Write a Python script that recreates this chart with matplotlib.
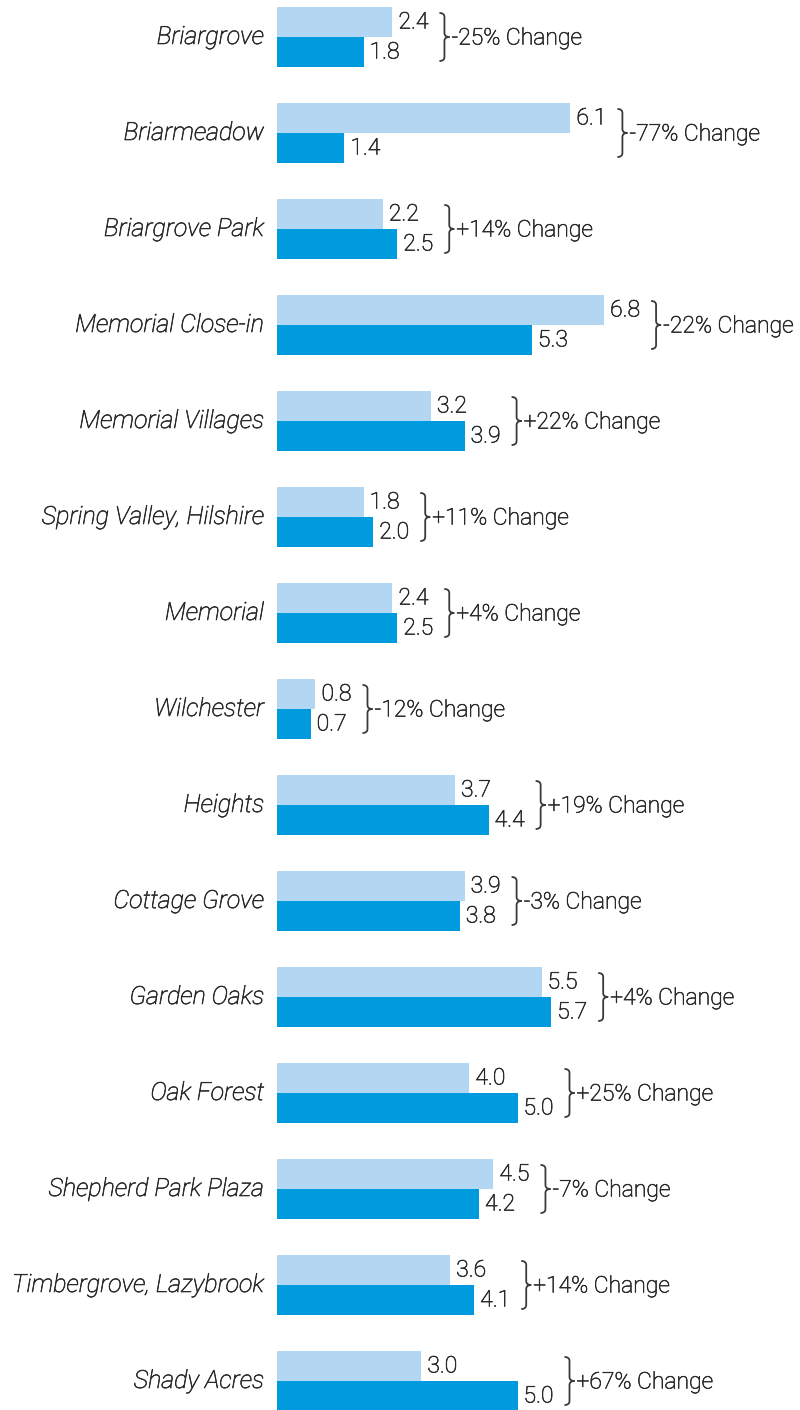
import matplotlib
matplotlib.use("Agg")
import matplotlib.pyplot as plt
import matplotlib.patheffects as pe
import numpy as np
from matplotlib.path import Path
from matplotlib.patches import PathPatch

# ---------------------------------------------------------------------------
# Data
# ---------------------------------------------------------------------------

neighborhoods = [
    "Briargrove", "Briarmeadow", "Briargrove Park", "Memorial Close-in",
    "Memorial Villages", "Spring Valley, Hilshire", "Memorial", "Wilchester",
    "Heights", "Cottage Grove", "Garden Oaks", "Oak Forest",
    "Shepherd Park Plaza", "Timbergrove, Lazybrook", "Shady Acres",
]
before = [2.4, 6.1, 2.2, 6.8, 3.2, 1.8, 2.4, 0.8, 3.7, 3.9, 5.5, 4.0, 4.5, 3.6, 3.0]
after = [1.8, 1.4, 2.5, 5.3, 3.9, 2.0, 2.5, 0.7, 4.4, 3.8, 5.7, 5.0, 4.2, 4.1, 5.0]
changes = ["-25%", "-77%", "+14%", "-22%", "+22%", "+11%", "+4%", "-12%",
           "+19%", "-3%", "+4%", "+25%", "-7%", "+14%", "+67%"]

# ---------------------------------------------------------------------------
# Layout (figure is laid out in pixels: 800 x 1410)
# ---------------------------------------------------------------------------

W, H = 800, 1410
X0 = 277           # pixel where bars start
PX_PER_UNIT = 48.1 # x pixels per data unit
PITCH = 96         # y pixels per category
FIRST = 37         # y pixel of first category centre
PX_X = 1 / PX_PER_UNIT
PX_Y = 1 / PITCH

LIGHT = "#b3d6f2"
DARK = "#009bde"
TEXT = "#2a2a2a"
FONT = "Roboto"

fig = plt.figure(figsize=(W / 100, H / 100), dpi=100)
ax = fig.add_axes([X0 / W, 0, (W - X0) / W, 1])
ax.set_xlim(0, (W - X0) / PX_PER_UNIT)
top = -FIRST / PITCH
ax.set_ylim(top + H / PITCH, top)
ax.axis("off")

y = np.arange(len(neighborhoods))
bh = 30 / PITCH
ax.barh(y - bh / 2, before, height=bh, color=LIGHT, linewidth=0)
ax.barh(y + bh / 2, after, height=bh, color=DARK, linewidth=0)

# light weight, thickened a touch to get closer to Helvetica Light
thicken = [pe.withStroke(linewidth=0.45, foreground=TEXT)]
txt_kw = dict(color=TEXT, family=FONT, fontweight="light", fontsize=16.5,
              path_effects=thicken)


def brace(ax, x, yc, half_h, w):
    """Right-pointing curly brace at x (data), centred on yc."""
    dx = w * PX_X
    dy = 4 * PX_Y
    hh = half_h * PX_Y
    xm = x + dx / 2
    verts = [
        (x, yc - hh),
        (xm, yc - hh), (xm, yc - hh + dy),
        (xm, yc - dy),
        (xm, yc), (x + dx, yc),
        (xm, yc), (xm, yc + dy),
        (xm, yc + hh - dy),
        (xm, yc + hh), (x, yc + hh),
    ]
    codes = [Path.MOVETO,
             Path.CURVE3, Path.CURVE3,
             Path.LINETO,
             Path.CURVE3, Path.CURVE3,
             Path.CURVE3, Path.CURVE3,
             Path.LINETO,
             Path.CURVE3, Path.CURVE3]
    ax.add_patch(PathPatch(Path(verts, codes), fill=False, ec="#3a3a3a", lw=1.3))


for i, name in enumerate(neighborhoods):
    # category label, right aligned left of the bars
    ax.text(-13 * PX_X, i, name, ha="right", va="center", style="italic",
            **{**txt_kw, "fontsize": 18})
    # value labels
    ax.text(before[i] + 6 * PX_X, i - bh / 2, f"{before[i]:.1f}", ha="left", va="center", **txt_kw)
    ax.text(after[i] + 6 * PX_X, i + bh / 2, f"{after[i]:.1f}", ha="left", va="center", **txt_kw)
    # brace + change text
    bx = max(before[i], after[i]) + 47 * PX_X
    brace(ax, bx, i, 24, 10)
    ax.text(bx + 12 * PX_X, i + 1 * PX_Y, f"{changes[i]} Change", ha="left", va="center", **txt_kw)

fig.savefig("out.png", dpi=100)
